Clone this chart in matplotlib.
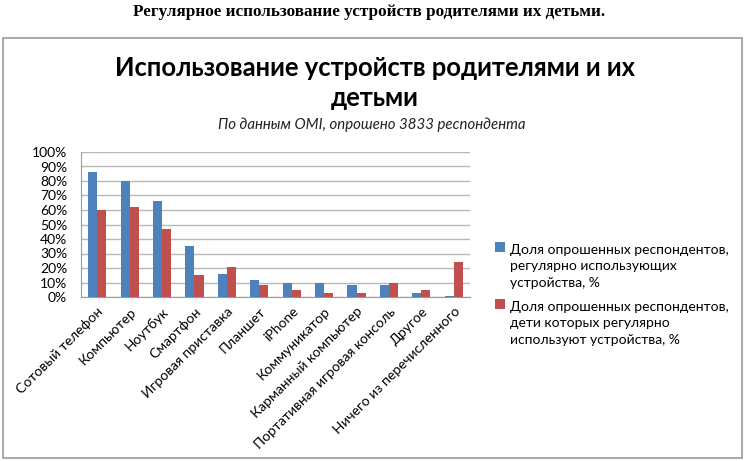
import numpy as np
import matplotlib.pyplot as plt
from matplotlib.patches import Rectangle
from matplotlib.container import BarContainer
from matplotlib.legend_handler import HandlerBase

# Категории устройств
devices = ["Сотовый телефон", "Компьютер", "Ноутбук", "Смартфон",
           "Игровая приставка", "Планшет", "iPhone", "Коммуникатор",
           "Карманный компьютер", "Портативная игровая консоль",
           "Другое", "Ничего из перечисленного"]

# Значения, %
parents = [86, 80, 66, 35, 16, 12, 10, 10, 8, 8, 2.5, 1]
children = [60, 62, 47, 15, 21, 8, 5, 2.5, 3, 10, 5, 24]

y_ticks = list(range(0, 101, 10))

legend_labels = ["Доля опрошенных респондентов,\nрегулярно использующих\nустройства, %",
                 "Доля опрошенных респондентов,\nдети которых регулярно\nиспользуют устройства, %"]

plt.rcParams['font.family'] = ['Lato', 'DejaVu Sans']


# квадратик легенды на уровне первой строки подписи
class TopSquare(HandlerBase):
    def create_artists(self, legend, orig_handle, xdescent, ydescent,
                       width, height, fontsize, trans):
        color = orig_handle.patches[0].get_facecolor()
        p = Rectangle((-xdescent, -ydescent + fontsize * 1.4), width, height,
                      facecolor=color, transform=trans)
        return [p]


W, H = 749, 461
fig = plt.figure(figsize=(W / 100, H / 100), dpi=100)

# рамка диаграммы
fig.patches.append(Rectangle((3 / W, 1 - 458 / H), 739 / W, 420 / H,
                             transform=fig.transFigure, fill=False,
                             edgecolor='#9a9a9a', linewidth=1.2))

fig.text(369 / W, 1 - 12 / H, "Регулярное использование устройств родителями их детьми.",
         ha='center', va='center', fontsize=12.3, fontweight='bold',
         family='Liberation Serif')
fig.text(375 / W, 1 - 83 / H, "Использование устройств родителями и их\nдетьми",
         ha='center', va='center', fontsize=18.4, fontweight='bold', linespacing=1.3)
fig.text(372 / W, 1 - 125 / H, "По данным OMI, опрошено 3833 респондента",
         ha='center', va='center', fontsize=10.8, style='italic', color='#222222')

ax = fig.add_axes([81 / W, 1 - 297 / H, (470 - 81) / W, (297 - 152) / H])

x = np.arange(len(devices))
w = 0.28
ax.bar(x - w / 2, parents, w, color='#4F81BD', label=legend_labels[0], zorder=3)
ax.bar(x + w / 2, children, w, color='#C0504D', label=legend_labels[1], zorder=3)

ax.set_xlim(-0.5, len(devices) - 0.5)
ax.set_ylim(0, 100)
ax.set_yticks(y_ticks)
ax.set_yticklabels([f"{v}%" for v in y_ticks], fontsize=10)
ax.yaxis.grid(True, color='#b8b8b8', linewidth=1, zorder=0)
ax.set_xticks(x)
ax.set_xticklabels(devices, rotation=45, ha='right', rotation_mode='anchor', fontsize=10)
ax.tick_params(axis='y', length=0, pad=10)
ax.tick_params(axis='x', length=0, pad=6)
for s in ['top', 'right']:
    ax.spines[s].set_visible(False)
ax.spines['left'].set_color('#9a9a9a')
ax.spines['bottom'].set_color('#9a9a9a')

leg = ax.legend(loc='upper left', bbox_to_anchor=(488 / W, 1 - 237 / H),
                bbox_transform=fig.transFigure, frameon=False, fontsize=10,
                handlelength=0.7, handleheight=0.7, handletextpad=0.4,
                labelspacing=0.85, borderpad=0,
                handler_map={BarContainer: TopSquare()})
for t in leg.get_texts():
    t.set_linespacing(1.45)

fig.savefig("out.png", dpi=100)
